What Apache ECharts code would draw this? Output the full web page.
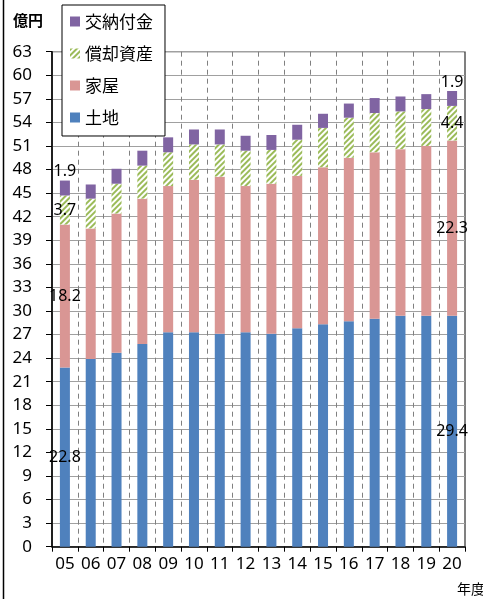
<!DOCTYPE html>
<html><head><meta charset="utf-8">
<script src="https://cdn.jsdelivr.net/npm/echarts@6/dist/echarts.min.js"></script>
<style>html,body{margin:0;padding:0;background:#fff}#c{width:483px;height:599px}</style>
</head><body><div id="c"></div>
<script>
const categories = ['05','06','07','08','09','10','11','12','13','14','15','16','17','18','19','20'];
const land     = [22.8,23.9,24.7,25.8,27.3,27.3,27.1,27.3,27.1,27.8,28.3,28.7,29.0,29.4,29.4,29.4];
const house    = [18.2,16.6,17.7,18.5,18.6,19.4,20.0,18.6,19.1,19.4,20.0,20.8,21.2,21.2,21.6,22.3];
const deprec   = [3.7,3.8,3.8,4.2,4.3,4.5,4.1,4.5,4.3,4.6,5.0,5.1,5.0,4.8,4.7,4.4];
const grant    = [1.9,1.8,1.9,1.9,1.9,1.9,1.9,1.9,1.9,1.9,1.8,1.8,1.9,1.9,1.9,1.9];
const seriesNames = ['土地','家屋','償却資産','交納付金'];
const yTicks = {min:0, max:63, interval:3};

const FONT = '"Noto Sans", "Noto Sans CJK JP", sans-serif';
const last = categories.length - 1;
function withLabels(arr){
  return arr.map((v,i)=> (i===0||i===last) ? {value:v, label:{show:true}} : v);
}
const labelBase = {show:false, color:'#000', fontSize:16, fontFamily:FONT,
  formatter: p => Number(p.value).toFixed(1)};

const chart = echarts.init(document.getElementById('c'), null, {renderer:'canvas'});
chart.setOption({
  animation:false,
  backgroundColor:'#fff',
  grid:{left:52, right:18, top:51.7, bottom:52.3, show:true, borderColor:'#000', borderWidth:1, backgroundColor:'transparent'},
  legend:{
    data:['交納付金','償却資産','家屋','土地'],
    orient:'vertical', left:62, top:5,
    padding:[8,12,10,8], itemGap:15, itemWidth:10, itemHeight:10,
    backgroundColor:'#fff', borderColor:'#000', borderWidth:1,
    textStyle:{fontSize:17, color:'#000', fontFamily:'"Noto Sans CJK JP", sans-serif'},
    icon:'rect', z:10
  },
  xAxis:{
    type:'category', data:categories, boundaryGap:true,
    axisLine:{lineStyle:{color:'#000', width:1.5}},
    axisTick:{show:true, length:5, inside:false, lineStyle:{color:'#000'}},
    axisLabel:{color:'#000', fontSize:17, fontFamily:FONT, margin:9, interval:0},
    splitLine:{show:true, interval:0, lineStyle:{color:'#808080', type:[5,4], width:1}}
  },
  yAxis:{
    type:'value', min:yTicks.min, max:yTicks.max, interval:yTicks.interval,
    axisLine:{show:true, lineStyle:{color:'#000', width:1.5}},
    axisTick:{show:true, length:6, lineStyle:{color:'#000'}},
    axisLabel:{color:'#000', fontSize:17, fontFamily:FONT, margin:20},
    splitLine:{show:true, lineStyle:{color:'#a0a0a0', width:1}}
  },
  series:[
    {name:seriesNames[0], type:'bar', stack:'t', barWidth:10, data:withLabels(land),
     itemStyle:{color:'#4f81bd'}, label:Object.assign({}, labelBase, {position:'inside'})},
    {name:seriesNames[1], type:'bar', stack:'t', barWidth:10, data:withLabels(house),
     itemStyle:{color:'#d99694'}, label:Object.assign({}, labelBase, {position:'inside'})},
    {name:seriesNames[2], type:'bar', stack:'t', barWidth:10, data:withLabels(deprec),
     itemStyle:{color:'#ffffff', decal:{symbol:'rect', symbolSize:1, dashArrayX:[1,0], dashArrayY:[2,2], rotation:-Math.PI/4, color:'#9bbb59'}},
     label:Object.assign({}, labelBase, {position:'inside'})},
    {name:seriesNames[3], type:'bar', stack:'t', barWidth:10, data:withLabels(grant),
     itemStyle:{color:'#8064a2'}, label:Object.assign({}, labelBase, {position:'top', distance:1})}
  ],
  graphic:[
    {type:'line', shape:{x1:3.5, y1:0, x2:3.5, y2:599}, style:{stroke:'#000', lineWidth:1.5}},
    {type:'text', left:13, top:13, style:{text:'億円', font:'bold 15px "Noto Sans CJK JP", sans-serif', fill:'#000'}},
    {type:'text', left:457, top:582, style:{text:'年度', font:'14px "Noto Sans CJK JP", sans-serif', fill:'#000'}}
  ]
});
</script></body></html>
